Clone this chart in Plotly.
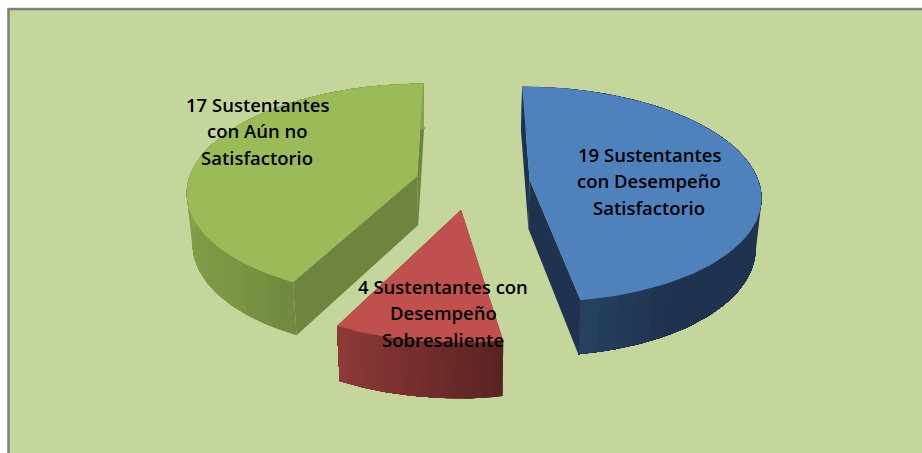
import numpy as np
import plotly.graph_objects as go

categories = ["Desempeño Satisfactorio", "Desempeño Sobresaliente", "Aún no Satisfactorio"]
values = [19, 4, 17]
label_lines = [
    ["19 Sustentantes", "con Desempeño", "Satisfactorio"],
    ["4 Sustentantes con", "Desempeño", "Sobresaliente"],
    ["17 Sustentantes", "con Aún no", "Satisfactorio"],
]

# styling and projection settings (not data)
TOP = ["#4F81BD", "#C0504D", "#9BBB59"]
WALL = ["#1F3350", "#6E2D2B", "#6F853F"]
ARC_RAMP = [
    [(170, "#27425F"), (150, "#1F3350"), (0, "#1F3350")],
    [(171, "#5A2323"), (207, "#8F3B39")],
    [(207, "#708840"), (225, "#7C9645"), (270, "#87A34B"), (360, "#87A34B")],
]
OFFSET = [(0.274, -0.025), (-0.025, -0.30), (-0.219, 0.01)]
LABEL_POS = [(649, 154), (443, 286), (257, 104)]
BG, FRAME = "#C4D69C", "#7F7F7F"
VX, VY, D, H, K = 467.0, -600.0, 7.4, 5750.0, 1685.0


def project(u, v):
    w = D + v
    return VX + u * K / w, VY + H / w


def drop(x, y):
    return x + (470 - x) * 0.02, y + 42 + 0.04 * y


def hexrgb(c):
    return np.array([int(c[i:i + 2], 16) for i in (1, 3, 5)], float)


def ramp(stops, t):
    s = sorted(stops, key=lambda p: p[0])
    ts = [p[0] for p in s]
    cs = np.array([hexrgb(p[1]) for p in s])
    return "rgb(%d,%d,%d)" % tuple(np.interp(t, ts, cs[:, i]) for i in range(3))


fig = go.Figure()


def poly(xs, ys, color):
    fig.add_trace(go.Scatter(x=list(xs), y=list(ys), mode="lines", fill="toself",
                             fillcolor=color, line=dict(color=color, width=0),
                             hoverinfo="skip", showlegend=False))


total = sum(values)
edges = np.cumsum([0] + values) / total * 360.0
for idx in [2, 1, 0]:
    a0, a1 = edges[idx], edges[idx + 1]
    du, dv = OFFSET[idx]
    th = np.radians(np.linspace(a0, a1, 121))
    px, py = project(du + np.sin(th), dv + np.cos(th))
    cx, cy = project(du, dv)
    bx, by = drop(px, py)
    cbx, cby = drop(cx, cy)
    # flat cut faces
    for k in (0, -1):
        poly([px[k], cx, cbx, bx[k]], [py[k], cy, cby, by[k]], WALL[idx])
    # outer rim: each band reaches to the end of the arc and the next one paints over it,
    # so no seams show between bands
    for i in range(0, len(th) - 1, 3):
        t = np.degrees(th[i] + th[min(i + 3, len(th) - 1)]) / 2
        poly(list(px[i:]) + list(bx[i:][::-1]), list(py[i:]) + list(by[i:][::-1]),
             ramp(ARC_RAMP[idx], t))
    # top face
    poly([cx, *px], [cy, *py], TOP[idx])

for pos, lines in zip(LABEL_POS, label_lines):
    for j, line in enumerate(lines):
        fig.add_annotation(x=pos[0], y=pos[1] + j * 26.5, text=line, showarrow=False,
                           font=dict(family="Open Sans", size=18.5, color="#000000", weight=600))

fig.update_layout(
    width=922, height=453, margin=dict(l=0, r=0, t=0, b=0),
    paper_bgcolor="white", plot_bgcolor="white",
    xaxis=dict(range=[0, 922], visible=False, fixedrange=True),
    yaxis=dict(range=[453, 0], visible=False, fixedrange=True),
    shapes=[dict(type="rect", layer="below", x0=8.5, y0=9, x1=960, y1=490,
                 fillcolor=BG, line=dict(color=FRAME, width=2.5))],
)
fig.write_html("out.html", config={"displayModeBar": False},
               post_script="document.body.style.margin='0';document.documentElement.style.overflow='hidden';")
